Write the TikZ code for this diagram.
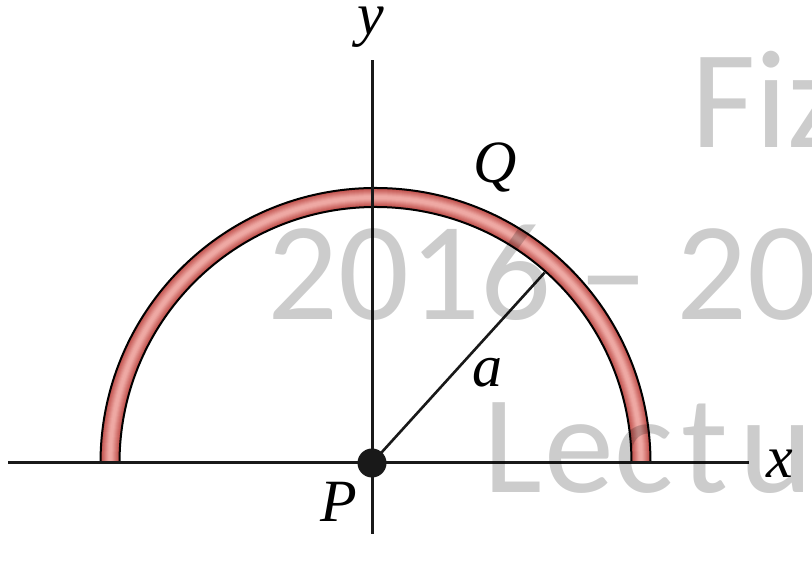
\documentclass[tikz,border=0pt]{standalone}
\usepackage{fontspec}
\usetikzlibrary{calc}
\setmainfont{Liberation Serif}
\newfontfamily\wmfont{Carlito}
\definecolor{ringedge}{RGB}{192,78,74}
\definecolor{ringmid}{RGB}{238,168,163}
\tikzset{
  axis/.style={line width=1.5pt, black!90},
  lbl/.style={font=\fontsize{30}{30}\selectfont\itshape, inner sep=0pt},
  wm/.style={font=\wmfont\fontsize{70}{70}\selectfont, inner sep=0pt, text=black, text opacity=0.2, anchor=base west},
}
\begin{document}
\begin{tikzpicture}[x=0.5pt,y=0.5pt]
\useasboundingbox (0,0) rectangle (812,571);
\clip (0,0) rectangle (812,571);
\coordinate (C) at (375.5,108);
% ring
\foreach \w/\c in {19/0,17/12,15/25,13/38,11/52,9/66,7/80,5/92,3/100}{
  \draw[line width=\w*0.5pt, color=ringmid!\c!ringedge]
    ($(C)+(180:265.5)$) arc[start angle=180, end angle=0, radius=265.5];
}
\draw[line width=1pt, black]
  ($(C)+(180:275)$) arc[start angle=180, end angle=0, radius=275]
  -- ($(C)+(0:256)$) arc[start angle=0, end angle=180, radius=256] -- cycle;
% axes
\coordinate (xl) at (8,108);
\coordinate (xr) at (749,108);
\coordinate (yb) at (372,37);
\coordinate (yt) at (372,511);
\draw[axis] (xl) -- (xr);
\draw[axis] (yb) -- (yt);
% point P and radius
\node[circle, fill=black!90, minimum size=29*0.5pt, inner sep=0pt] (P) at (372,108) {};
\coordinate (R) at ($(372,108)+(47.8:257)$);
\draw[line width=1.3pt, black!90] (P.center) -- (R);
% labels
\node[lbl, anchor=base] (ylab) at (371,536) {y};
\node[lbl, anchor=base] (xlab) at (780,93) {x};
\node[lbl, anchor=base] (Plab) at (339,49) {P};
\node[lbl, anchor=base] (Qlab) at (495,388) {Q};
\node[lbl, anchor=base] (alab) at (487,184) {a};
% watermark
\node[wm] (w1) at (691,423) {Fiz};
\node[wm] (w2) at (267,251) {2016\kern-2pt{} – \kern-2pt{}20};
\node[wm] (w3) at (483,78) {L\kern1pt e\kern0.5pt c\kern3.5pt t\kern5.5pt u};
\end{tikzpicture}
\end{document}
